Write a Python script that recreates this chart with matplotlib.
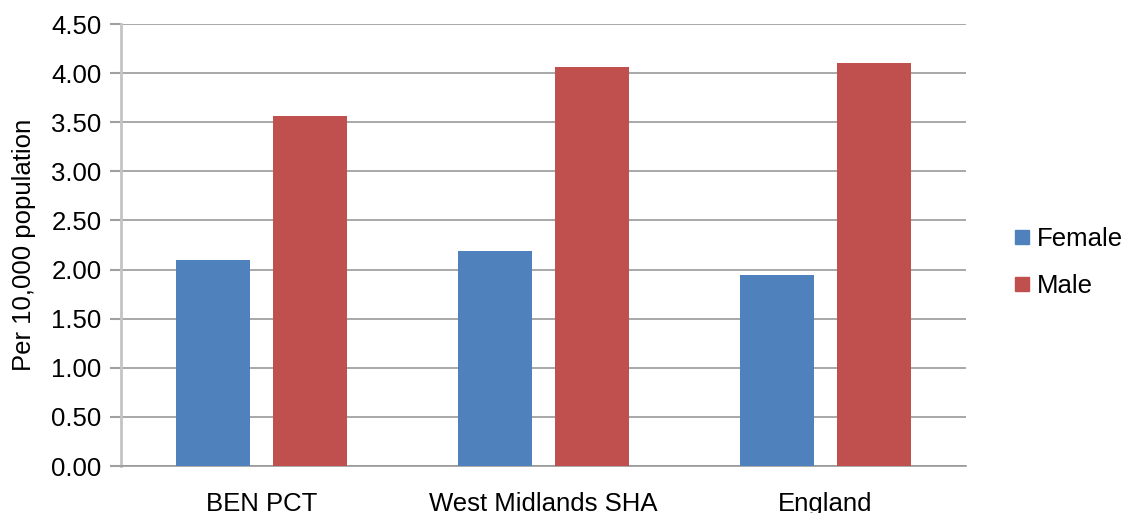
import matplotlib
matplotlib.use("Agg")
import matplotlib.pyplot as plt
from matplotlib.lines import Line2D
import numpy as np

categories = ["BEN PCT", "West Midlands SHA", "England"]
female = [2.10, 2.19, 1.94]
male = [3.56, 4.06, 4.10]
series_names = ["Female", "Male"]
colors = ["#4F81BD", "#C0504D"]
yticks = np.arange(0, 4.51, 0.5)

plt.rcParams["font.family"] = ["Liberation Sans", "DejaVu Sans"]
FS = 18.5

fig = plt.figure(figsize=(11.27, 5.13), dpi=100)
ax = fig.add_axes([121 / 1127, 1 - 466 / 513, (966 - 121) / 1127, (466 - 24) / 513])

x = np.arange(len(categories))
w = 0.263
off = 0.172
ax.bar(x - off, female, width=w, color=colors[0], zorder=3)
ax.bar(x + off, male, width=w, color=colors[1], zorder=3)

ax.set_xlim(-0.5, len(categories) - 0.5)
ax.set_ylim(0, 4.5)
ax.set_yticks(yticks)
ax.set_yticklabels([f"{v:.2f}" for v in yticks], fontsize=FS)
ax.set_xticks(x)
ax.set_xticklabels(categories, fontsize=FS)
ax.tick_params(axis="x", length=0, pad=18.5)
ax.tick_params(axis="y", length=8, width=1.5, color="#a0a0a0", pad=6)
ax.yaxis.grid(True, color="#999999", linewidth=1.2, zorder=0)
ax.set_axisbelow(True)
for s in ["top", "right"]:
    ax.spines[s].set_visible(False)
ax.spines["left"].set_color("#c4c4c4")
ax.spines["left"].set_linewidth(2)
ax.spines["bottom"].set_color("#999999")
ax.spines["bottom"].set_linewidth(1.2)
ax.set_ylabel("Per 10,000 population", fontsize=FS, labelpad=11)

handles = [Line2D([], [], marker="s", linestyle="none", markersize=10,
                  markerfacecolor=c, markeredgecolor=c) for c in colors]
fig.legend(handles, series_names, loc="center left",
           bbox_to_anchor=(1009 / 1127, 1 - 262.5 / 513), frameon=False,
           fontsize=FS, handletextpad=0.1, labelspacing=0.87, handlelength=1.0,
           borderpad=0, borderaxespad=0)

fig.savefig("out.png", dpi=100)
